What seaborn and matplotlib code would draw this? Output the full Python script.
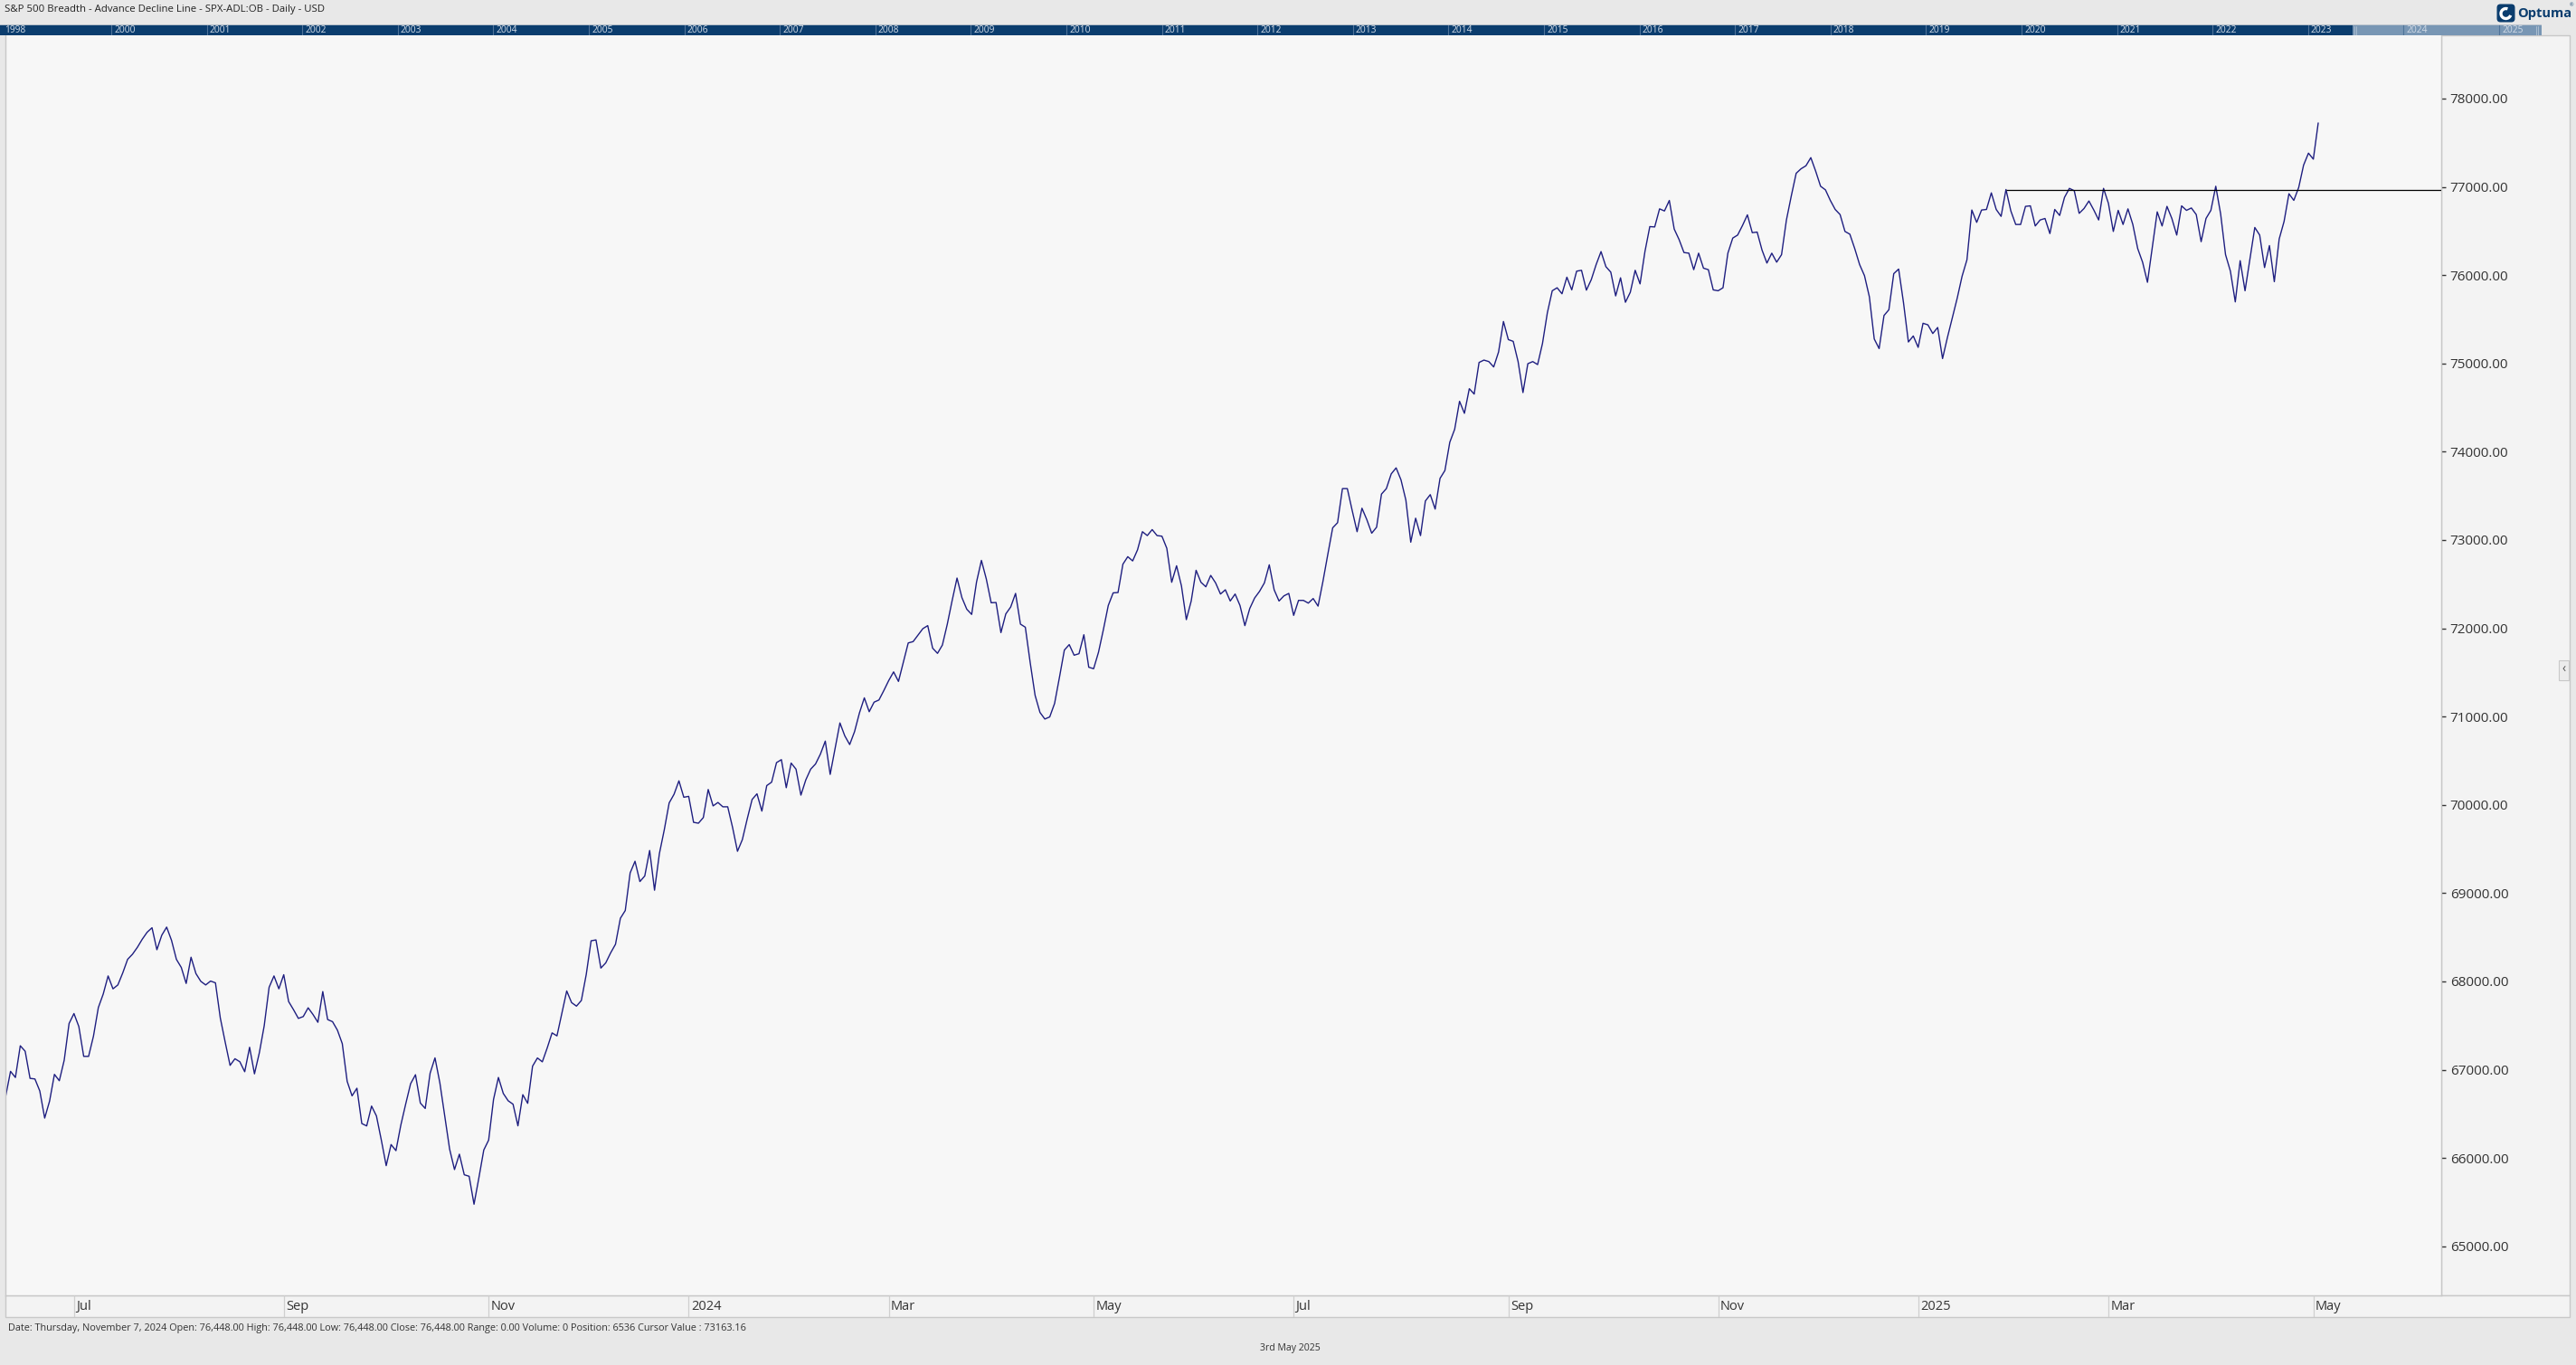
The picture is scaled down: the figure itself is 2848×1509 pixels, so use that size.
import numpy as np
import pandas as pd
import matplotlib
matplotlib.use("Agg")
import matplotlib.pyplot as plt
from matplotlib.patches import Rectangle, FancyBboxPatch, Arc
import seaborn as sns

# ---------------- data ----------------
title = "S&P 500 Breadth - Advance Decline Line - SPX-ADL:OB - Daily - USD"
status = ("Date: Thursday, November 7, 2024 Open: 76,448.00 High: 76,448.00 Low: 76,448.00 "
          "Close: 76,448.00 Range: 0.00 Volume: 0 Position: 6536 Cursor Value : 73163.16")
footer = "3rd May 2025"
last_session = "2025-05-02"
nyse_holidays = ["2023-06-19", "2023-07-04", "2023-09-04", "2023-11-23", "2023-12-25",
                 "2024-01-01", "2024-01-15", "2024-02-19", "2024-03-29", "2024-05-27",
                 "2024-06-19", "2024-07-04", "2024-09-02", "2024-11-28", "2024-12-25",
                 "2025-01-01", "2025-01-09", "2025-01-20", "2025-02-17", "2025-04-18"]

adl_close = [
    66534, 66698, 66981, 66912, 67271, 67209, 66902, 66895, 66759, 66452,
    66643, 66947, 66875, 67107, 67523, 67636, 67489, 67151, 67151, 67380,
    67704, 67857, 68062, 67916, 67960, 68096, 68250, 68308, 68386, 68478,
    68557, 68608, 68359, 68523, 68615, 68465, 68250, 68158, 67977, 68274,
    68089, 68001, 67960, 68004, 67984, 67585, 67312, 67049, 67124, 67090,
    66977, 67254, 66953, 67192, 67499, 67933, 68062, 67916, 68076, 67772,
    67680, 67581, 67602, 67701, 67625, 67537, 67885, 67568, 67544, 67448,
    67295, 66868, 66704, 66790, 66390, 66363, 66588, 66476, 66203, 65913,
    66152, 66083, 66373, 66612, 66841, 66943, 66622, 66561, 66960, 67134,
    66851, 66476, 66100, 65869, 66043, 65810, 65793, 65476, 65776, 66090,
    66203, 66663, 66912,
    66731, 66648, 66609, 66364, 66717, 66619, 67040, 67133, 67089, 67246,
    67417, 67383, 67637, 67892, 67760, 67720, 67784, 68078, 68460, 68470,
    68151, 68210, 68323, 68421, 68715, 68803, 69229, 69361, 69131, 69195,
    69483, 69033, 69449, 69718, 70022, 70120, 70272, 70086, 70096, 69802,
    69792, 69856, 70174, 69988, 70027, 69978, 69978, 69743, 69474, 69606,
    69841, 70061, 70125, 69929, 70218, 70257, 70478, 70512, 70194, 70473,
    70404, 70110, 70282, 70404, 70463, 70575, 70722, 70345, 70634, 70928,
    70781, 70683, 70830, 71041, 71212, 71055, 71163, 71188, 71295, 71408,
    71506, 71398, 71614, 71834, 71849, 71922, 71996, 72030, 71775, 71716,
    71810, 72045, 72314, 72569, 72348, 72216, 72157, 72524, 72769, 72559,
    72289,
    72292, 71951, 72163, 72241, 72395, 72047, 72012, 71610, 71241, 71047,
    70972, 70996, 71149, 71446, 71753, 71815, 71695, 71712, 71927, 71559,
    71542, 71729, 71985, 72258, 72401, 72405, 72726, 72811, 72763, 72889,
    73094, 73050, 73118, 73050, 73043, 72906, 72521, 72708, 72480, 72098,
    72309, 72657, 72521, 72470, 72599, 72514, 72388, 72436, 72309, 72388,
    72258, 72030, 72224, 72343, 72418, 72514, 72719, 72436, 72309, 72367,
    72395, 72146, 72316, 72316, 72285, 72337, 72251, 72531, 72838, 73138,
    73196, 73582, 73582, 73333, 73094, 73360, 73230, 73077, 73145, 73520,
    73582, 73749, 73817, 73681, 73452, 72975, 73247, 73050, 73442, 73514,
    73350, 73698, 73787, 74107, 74254, 74571, 74435, 74714, 74653, 75011,
    75038, 75021, 74960, 75130, 75475, 75270, 75250, 75021, 74670, 74997,
    75021, 74987, 75226, 75574, 75823, 75857, 75789, 75977, 75833, 76045,
    76055, 75830, 75949, 76120, 76267, 76096, 76034, 75765, 75970, 75693,
    75806, 76055, 75901, 76267, 76550, 76546, 76751, 76727, 76846, 76522,
    76403, 76256, 76249, 76062, 76249, 76079, 76062, 75833, 75823, 75857,
    76249, 76420, 76454, 76563, 76683, 76481, 76488, 76284, 76137, 76249,
    76147, 76232, 76625, 76898, 77154, 77205, 77239, 77331, 77177, 77007,
    76966, 76846, 76744, 76686, 76495, 76464, 76301, 76120, 75994, 75755,
    75277, 75168, 75543, 75608, 76017, 76069, 75687, 75243, 75311, 75182,
    75455, 75437, 75339, 75407, 75055, 75294, 75516, 75738, 75987, 76174,
    76738, 76598, 76738, 76744, 76932, 76744, 76666, 76970, 76727, 76574,
    76574, 76779, 76785, 76557, 76625, 76642, 76471, 76744, 76676, 76881,
    76983, 76956, 76700, 76755, 76840, 76738, 76625, 76983, 76813, 76495,
    76734, 76574, 76751, 76574, 76301, 76147, 75919, 76318, 76717, 76557,
    76779, 76642, 76454, 76785, 76734, 76761, 76686, 76379, 76642, 76734,
    77007, 76693, 76233, 76045, 75697, 76164, 75823, 76181, 76540, 76454,
    76086, 76335, 75926, 76410, 76608, 76922, 76847, 76993, 77246, 77382,
    77314, 77724,
]

resistance_start = "2025-01-30"
resistance_level = 76970
y_ticks = list(range(65000, 79000, 1000))
month_label_months = [1, 3, 5, 7, 9, 11]
nav_years = [1998] + list(range(2000, 2026))
nav_range = (1998.835, 2025.445)
nav_window = (2023.47, 2025.445)

# ---------------- style ----------------
sns.set_style("white")
plt.rcParams["font.family"] = ["Open Sans", "DejaVu Sans"]

W, H = 2848, 1509
fig = plt.figure(figsize=(W / 100, H / 100), dpi=100, facecolor="#e8e8e8")


def fx(px):
    return px / W


def fy(py):
    return 1 - py / H


PL, PR, PT, PB = 6, 2699, 39, 1432   # plot area (px)
PX_PER_SESSION = 5.394

dates = pd.bdate_range(end=last_session, periods=len(adl_close), freq="C",
                       holidays=nyse_holidays)
df = pd.DataFrame({"session": np.arange(len(adl_close)), "adl": adl_close, "date": dates})

# panels behind
fig.patches.append(Rectangle((fx(PR), fy(PB)), fx(2841 - PR), (PB - PT) / H,
                             transform=fig.transFigure, fc="#f3f3f3", ec="#c8c8c8",
                             lw=1, zorder=-2))
fig.patches.append(Rectangle((fx(PL), fy(1456)), fx(2841 - PL), 24 / H,
                             transform=fig.transFigure, fc="#f3f3f3", ec="#c8c8c8",
                             lw=1, zorder=-1))

# ---------------- main axes ----------------
ax = fig.add_axes([fx(PL), fy(PB), fx(PR - PL), (PB - PT) / H])
ax.set_facecolor("#f7f7f7")
sns.lineplot(data=df, x="session", y="adl", ax=ax, color="#1e1e80", linewidth=1.0)

last_idx = len(adl_close) - 1
x_left = last_idx - (2563 - PL) / PX_PER_SESSION
x_right = last_idx + (PR - 2563) / PX_PER_SESSION
ax.set_xlim(x_left, x_right)
ax.set_ylim(64444, 78717)

x0 = dates.get_loc(pd.Timestamp(resistance_start))
ax.hlines(resistance_level, x0, x_right, color="black", lw=0.9, zorder=3)

ax.set_xlabel("")
ax.set_ylabel("")
ax.set_xticks([])
ax.yaxis.tick_right()
ax.set_yticks(y_ticks)
ax.set_yticklabels([f"{v:.2f}" for v in y_ticks])
ax.tick_params(axis="y", which="both", right=True, left=False, length=3.5, width=1,
               color="#333333", pad=3.5, labelsize=11, labelcolor="#333333")
for s in ["left", "right", "bottom"]:
    ax.spines[s].set_color("#c8c8c8")
    ax.spines[s].set_linewidth(1)
ax.spines["top"].set_visible(False)

# ---------------- bottom month strip ----------------
axb = fig.add_axes([fx(PL), fy(1456), fx(PR - PL), 24 / H], sharex=ax)
axb.set_facecolor("none")
axb.axis("off")
first_of_month = df.groupby([df["date"].dt.year, df["date"].dt.month])["session"].min()
for (yr, mo), idx in first_of_month.items():
    if mo not in month_label_months:
        continue
    if idx == 0:
        continue
    label = str(yr) if mo == 1 else pd.Timestamp(year=yr, month=mo, day=1).strftime("%b")
    axb.axvline(idx, color="#cfcfcf", lw=0.9)
    axb.text(idx + 0.45, 0.47, label, fontsize=10.5, color="#333333", va="center",
             ha="left")
axb.set_ylim(0, 1)

# ---------------- navigator bar ----------------
axn = fig.add_axes([0, fy(39), fx(2810), 12 / H])
axn.set_xlim(*nav_range)
axn.set_ylim(0, 1)
axn.set_facecolor("#0b3d6e")
axn.set_xticks([])
axn.set_yticks([])
for s in axn.spines.values():
    s.set_visible(False)
axn.axvspan(nav_window[0], nav_window[1], color="#7896b4", lw=0)
for yr in nav_years[1:]:
    axn.axvline(yr, color="#4f7399", lw=0.8)
for yr in nav_years:
    xpos = yr + 0.03 if yr >= 2000 else nav_range[0] + 0.045
    axn.text(xpos, 0.42, str(yr), fontsize=7.4, color="#d3dce7", va="center", ha="left")
axn.axhline(0.96, color="#c4cad0", lw=1.3)
for g in [0.015, 0.035]:
    axn.axvline(nav_window[0] + g, color="#a9bdd0", lw=0.7, ymax=0.85)
    axn.axvline(nav_window[1] - g - 0.02, color="#a9bdd0", lw=0.7, ymax=0.85)

# ---------------- texts ----------------
fig.text(fx(5), fy(10.5), title, fontsize=8.2, color="#222222", va="center", ha="left")
fig.text(fx(9), fy(1469), status, fontsize=7.8, color="#333333", va="center", ha="left")
fig.text(fx(1426), fy(1490), footer, fontsize=7.6, color="#333333", va="center", ha="center")

# logo
axl = fig.add_axes([fx(2760), fy(25), 21 / W, 21 / H])
axl.set_xlim(0, 21)
axl.set_ylim(0, 21)
axl.axis("off")
axl.add_patch(FancyBboxPatch((0.5, 0.5), 20, 20, boxstyle="round,pad=0,rounding_size=4",
                             fc="#0b3d6e", ec="none"))
axl.add_patch(Arc((10.5, 10), 11, 11, theta1=70, theta2=340, lw=2.4, color="white"))
fig.text(fx(2783), fy(15), "Optuma", fontsize=10.5, fontweight="bold", color="#0b3d6e",
         va="center", ha="left")
fig.text(fx(2841), fy(6), "®", fontsize=4, color="#0b3d6e", va="center", ha="left")

# small collapse button on the right edge
fig.patches.append(Rectangle((fx(2829), fy(752)), fx(11), 22 / H, transform=fig.transFigure,
                             fc="#ececec", ec="#c8c8c8", lw=0.8, zorder=2))
fig.text(fx(2834.5), fy(740), "‹", fontsize=10, color="#555555", va="center", ha="center")

fig.savefig("out.png", dpi=100, facecolor=fig.get_facecolor())
